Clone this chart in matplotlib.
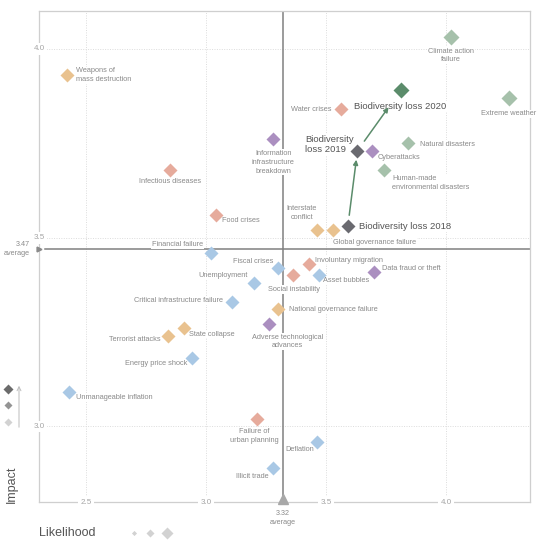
import matplotlib.pyplot as plt

plt.rcParams['font.family'] = ['Liberation Sans', 'DejaVu Sans']

# Global risks: likelihood (x) vs impact (y)
names = [
    "Weapons of\nmass destruction", "Infectious diseases", "Food crises",
    "Information\ninfrastructure\nbreakdown", "Financial failure", "Water crises",
    "Climate action\nfailure", "Extreme weather", "Natural disasters",
    "Cyberattacks", "Human-made\nenvironmental disasters", "Interstate\nconflict",
    "Global governance failure", "Fiscal crises", "Involuntary migration",
    "Social instability", "Asset bubbles", "Data fraud or theft", "Unemployment",
    "Critical infrastructure failure", "National governance failure",
    "Adverse technological\nadvances", "State collapse", "Terrorist attacks",
    "Energy price shock", "Unmanageable inflation", "Failure of\nurban planning",
    "Deflation", "Illicit trade",
    "Biodiversity loss 2018", "Biodiversity\nloss 2019", "Biodiversity loss 2020",
]
likelihood = [
    2.42, 2.85, 3.04,
    3.28, 3.02, 3.56,
    4.02, 4.26, 3.84,
    3.69, 3.74, 3.46,
    3.53, 3.30, 3.43,
    3.36, 3.47, 3.70, 3.20,
    3.11, 3.30,
    3.26, 2.91, 2.84,
    2.94, 2.43, 3.21,
    3.46, 3.28,
    3.59, 3.63, 3.81,
]
impact = [
    3.93, 3.68, 3.56,
    3.76, 3.46, 3.84,
    4.03, 3.87, 3.75,
    3.73, 3.68, 3.52,
    3.52, 3.42, 3.43,
    3.40, 3.40, 3.41, 3.38,
    3.33, 3.31,
    3.27, 3.26, 3.24,
    3.18, 3.09, 3.02,
    2.96, 2.89,
    3.53, 3.73, 3.89,
]
category = [
    "geo", "soc", "soc",
    "tech", "eco", "soc",
    "env", "env", "env",
    "tech", "env", "geo",
    "geo", "eco", "soc",
    "soc", "eco", "tech", "eco",
    "eco", "geo",
    "tech", "geo", "geo",
    "eco", "eco", "soc",
    "eco", "eco",
    "bio_old", "bio_old", "bio_new",
]
avg_likelihood = 3.32
avg_impact = 3.47
x_ticks = [2.5, 3.0, 3.5, 4.0]
y_ticks = [3.0, 3.5, 4.0]

colors = {"eco": "#a9c8e5", "env": "#a6c1ab", "geo": "#e9c28f",
          "soc": "#e6ab9c", "tech": "#ab8fc0", "bio_old": "#6a6a70",
          "bio_new": "#5b8c6b"}

# label offsets in pixels (dx right, dy down) and alignment
label_pos = {
    "Weapons of\nmass destruction": (9, 0, "left"),
    "Infectious diseases": (0, 12, "center"),
    "Food crises": (6, 6, "left"),
    "Information\ninfrastructure\nbreakdown": (0, 23, "center"),
    "Financial failure": (-8, -8, "right"),
    "Water crises": (-9, 0, "right"),
    "Climate action\nfailure": (0, 18, "center"),
    "Extreme weather": (0, 16, "center"),
    "Natural disasters": (12, 1, "left"),
    "Cyberattacks": (6, 7, "left"),
    "Human-made\nenvironmental disasters": (8, 13, "left"),
    "Interstate\nconflict": (-15, -17, "center"),
    "Global governance failure": (0, 12, "left"),
    "Fiscal crises": (-5, -6, "right"),
    "Involuntary migration": (6, -4, "left"),
    "Social instability": (1, 14, "center"),
    "Asset bubbles": (4, 5, "left"),
    "Data fraud or theft": (8, -3, "left"),
    "Unemployment": (-6, -7, "right"),
    "Critical infrastructure failure": (-9, -1, "right"),
    "National governance failure": (11, 0, "left"),
    "Adverse technological\nadvances": (19, 17, "center"),
    "State collapse": (5, 6, "left"),
    "Terrorist attacks": (-7, 4, "right"),
    "Energy price shock": (-4, 5, "right"),
    "Unmanageable inflation": (7, 5, "left"),
    "Failure of\nurban planning": (-2, 17, "center"),
    "Deflation": (-2, 8, "right"),
    "Illicit trade": (-5, 8, "right"),
    "Biodiversity loss 2018": (11, 0, "left"),
    "Biodiversity\nloss 2019": (-4, -6, "right"),
    "Biodiversity loss 2020": (-47, 16, "left"),
}
big = {"Climate action\nfailure": 8.6, "Extreme weather": 8.6,
       "Biodiversity loss 2020": 8.2, "Biodiversity\nloss 2019": 7.6,
       "Biodiversity loss 2018": 7.6}

fig = plt.figure(figsize=(5.5, 5.5), dpi=100)
ax = fig.add_axes([39 / 550, 48 / 550, 491 / 550, 491 / 550])
ax.set_xlim(2.305, 4.348)
ax.set_ylim(2.80, 4.10)
ax.set_xticks(x_ticks)
ax.set_yticks(y_ticks)
ax.tick_params(length=0, labelbottom=False, labelleft=False)
ax.grid(True, linestyle=(0, (1, 1.5)), color="#dcdcdc", lw=0.7, zorder=0)
ax.set_axisbelow(True)
for s in ax.spines.values():
    s.set_color("#cfcfcf")
    s.set_linewidth(0.9)

tick_style = dict(fontsize=5.8, color="#a5a5a5", va="center", ha="center", zorder=7,
                  bbox=dict(boxstyle="square,pad=0.3", fc="white", ec="none"))
for t in x_ticks:
    ax.text(t, 2.80, f"{t:.1f}", **tick_style)
for t in y_ticks:
    ax.text(2.305, t, f"{t:.1f}", **tick_style)

# average lines
ax.axhline(avg_impact, xmin=0.012, color="#808080", lw=1.1, zorder=2)
ax.axvline(avg_likelihood, ymin=0.01, color="#808080", lw=1.1, zorder=2)
ax.plot(2.305, avg_impact, marker=">", ms=3.5, color="#8a8a8a", clip_on=False, zorder=8)
ax.plot(avg_likelihood, 2.809, marker="^", ms=6.5, color="#a8a8a8", clip_on=False, zorder=8)
ax.annotate(f"{avg_impact:.2f}\naverage", (2.305, avg_impact), xytext=(-9, 0),
            textcoords="offset pixels", ha="right", va="center", fontsize=5.2,
            color="#8a8a8a", linespacing=1.25, annotation_clip=False)
ax.annotate(f"{avg_likelihood:.2f}\naverage", (avg_likelihood, 2.80), xytext=(0, -16),
            textcoords="offset pixels", ha="center", va="center", fontsize=5.2,
            color="#8a8a8a", linespacing=1.25, annotation_clip=False)

# points and labels
for n, x, y, c in zip(names, likelihood, impact, category):
    ax.plot(x, y, marker="D", ms=big.get(n, 7.0), color=colors[c], mec="none", zorder=5)
    dx, dy, ha = label_pos[n]
    bio = c.startswith("bio")
    ax.annotate(n, (x, y), xytext=(dx, -dy), textcoords="offset pixels",
                ha=ha, va="center", multialignment="left" if bio else ha,
                fontsize=6.8 if bio else 5.3,
                color="#555555" if bio else "#8a8a8a",
                linespacing=1.2 if bio else 1.35, zorder=4,
                bbox=dict(boxstyle="square,pad=0.1", fc="white", ec="none"))

# biodiversity trend arrows
bx = likelihood[-3:]
by = impact[-3:]
arrow = dict(arrowstyle="-|>", color="#5b8c6b", lw=1.1, mutation_scale=7)
ax.annotate("", xy=(bx[1], by[1]), xytext=(bx[0], by[0]),
            arrowprops=dict(arrow, shrinkA=8, shrinkB=6.5), zorder=6)
ax.annotate("", xy=(bx[2], by[2]), xytext=(bx[1], by[1]),
            arrowprops=dict(arrow, shrinkA=8.5, shrinkB=15), zorder=6)

# legend in pixel coordinates
leg = fig.add_axes([0, 0, 1, 1])
leg.set_xlim(0, 550)
leg.set_ylim(550, 0)
leg.axis("off")
for yy, cc, mm in [(389, "#6b6b6b", 4.6), (405, "#949494", 4.2), (422, "#d2d2d2", 4.2)]:
    leg.plot(7.5, yy, marker="D", ms=mm, color=cc, mec="none")
leg.annotate("", xy=(19, 383), xytext=(19, 430),
             arrowprops=dict(arrowstyle="->", color="#bdbdbd", lw=0.7, mutation_scale=7))
leg.text(12, 484, "Impact", rotation=90, ha="center", va="center",
         fontsize=9, color="#555555")
leg.text(39, 533, "Likelihood", ha="left", va="center", fontsize=9, color="#555555")
for xx, mm in [(134, 2.6), (150, 4.0), (167, 6.0)]:
    leg.plot(xx, 533, marker="D", ms=mm, color="#d2d2d2", mec="none")

fig.savefig("out.png", dpi=100)
